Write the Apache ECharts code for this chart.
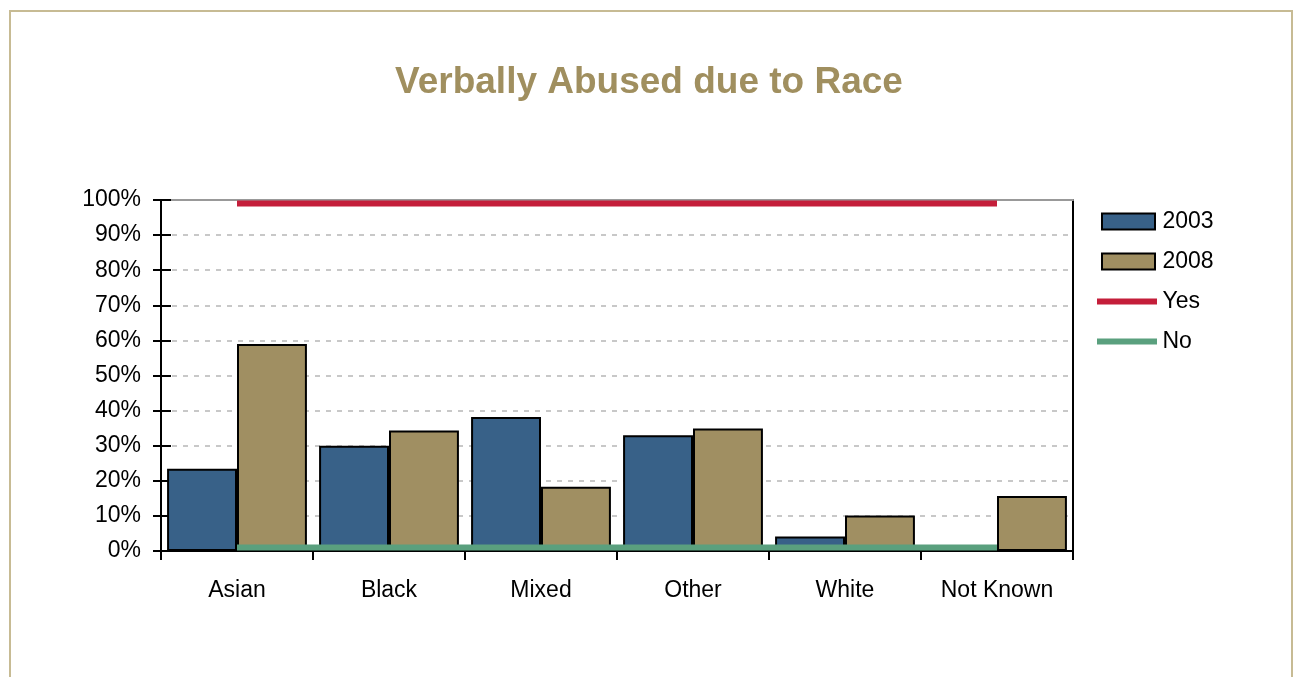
<!DOCTYPE html>
<html>
<head>
<meta charset="utf-8">
<script src="https://cdn.jsdelivr.net/npm/echarts@6/dist/echarts.min.js"></script>
<style>
html,body{margin:0;padding:0;background:#fff;overflow:hidden;}
#frame{position:absolute;left:9px;top:10px;width:1284px;height:700px;border:2px solid #c7bb94;border-bottom:none;box-sizing:border-box;}
#chart{position:absolute;left:0;top:0;width:1298px;height:677px;}
</style>
</head>
<body>
<div id="frame"></div>
<div id="chart"></div>
<script>
const categories = ['Asian', 'Black', 'Mixed', 'Other', 'White', 'Not Known'];
const values2003 = [23.4, 30, 38.2, 33, 4.1, 0];
const values2008 = [59, 34.3, 18.3, 34.9, 10.1, 15.7];
const valuesYes = [99, 99, 99, 99, 99, 99];
const valuesNo = [1, 1, 1, 1, 1, 1];
const yTicks = [0, 10, 20, 30, 40, 50, 60, 70, 80, 90, 100];

const chart = echarts.init(document.getElementById('chart'));
const font = 'Liberation Sans, Arial, sans-serif';
const lineIcon = 'path://M0,5H60V11H0Z M0,0L0,0.01 M60,16L60,15.99';
const rectIcon = 'path://M5,0H58V16H5Z M0,8L0,8.01 M60,8L60,8.01';
chart.setOption({
  animation: false,
  title: {
    text: 'Verbally Abused due to Race',
    left: 'center', top: 59,
    textStyle: { color: '#a08f5f', fontSize: 37, fontWeight: 'bold', fontFamily: font }
  },
  legend: {
    orient: 'vertical', left: 1091, top: 205, itemGap: 17,
    textStyle: { fontSize: 23, color: '#000', fontFamily: font, padding: [0, 0, 0, 0] },
    data: [
      { name: '2003', icon: rectIcon, itemStyle: { borderColor: '#000', borderWidth: 2 } },
      { name: '2008', icon: rectIcon, itemStyle: { borderColor: '#000', borderWidth: 2 } },
      { name: 'Yes', icon: lineIcon },
      { name: 'No', icon: lineIcon }
    ],
    itemWidth: 61, itemHeight: 16
  },
  grid: { left: 161, right: 225, top: 200, bottom: 126 },
  xAxis: [{
    type: 'category', data: categories,
    axisLine: { lineStyle: { color: '#000', width: 2 } },
    axisTick: { show: true, length: 9, lineStyle: { color: '#000', width: 2 } },
    axisLabel: { fontSize: 23, color: '#000', margin: 28, fontFamily: font }
  }, {
    type: 'category', data: categories, position: 'top',
    axisLine: { show: true, onZero: false, lineStyle: { color: '#999', width: 2 } },
    axisTick: { show: false }, axisLabel: { show: false }, splitLine: { show: false }
  }],
  yAxis: [{
    type: 'value', min: 0, max: 100, interval: 10,
    axisLine: { show: true, onZero: false, lineStyle: { color: '#000', width: 2 } },
    axisTick: { show: true, length: 8, lineStyle: { color: '#000', width: 2 } },
    axisLabel: { fontSize: 23, color: '#000', margin: 20, fontFamily: font,
      formatter: v => yTicks.indexOf(v) >= 0 ? v + '%' : '' },
    splitLine: { show: true, lineStyle: { color: '#c8c8c8', type: [5, 6], width: 2 } }
  }, {
    type: 'value', min: 0, max: 100, interval: 10, position: 'right',
    axisLine: { show: true, onZero: false, lineStyle: { color: '#000', width: 2 } },
    axisTick: { show: false }, axisLabel: { show: false }, splitLine: { show: false }
  }, {
    type: 'value', min: 0, max: 100, interval: 10, position: 'left', offset: 0,
    axisLine: { show: false, onZero: false },
    axisTick: { show: true, inside: true, length: 10, lineStyle: { color: '#000', width: 2 } },
    axisLabel: { show: false }, splitLine: { show: false }
  }],
  series: [
    { name: '2003', type: 'bar', data: values2003, barGap: '0%', barCategoryGap: '8%',
      itemStyle: { color: '#386188', borderColor: '#000', borderWidth: 2 } },
    { name: '2008', type: 'bar', data: values2008, barGap: '0%', barCategoryGap: '8%',
      itemStyle: { color: '#a08f62', borderColor: '#000', borderWidth: 2 } },
    { name: 'Yes', type: 'line', data: valuesYes, symbol: 'none', z: 5,
      lineStyle: { color: '#c41e3a', width: 6 }, itemStyle: { color: '#c41e3a' } },
    { name: 'No', type: 'line', data: valuesNo, symbol: 'none', z: 5,
      lineStyle: { color: '#5aa07e', width: 6 }, itemStyle: { color: '#5aa07e' } }
  ]
});
</script>
</body>
</html>
